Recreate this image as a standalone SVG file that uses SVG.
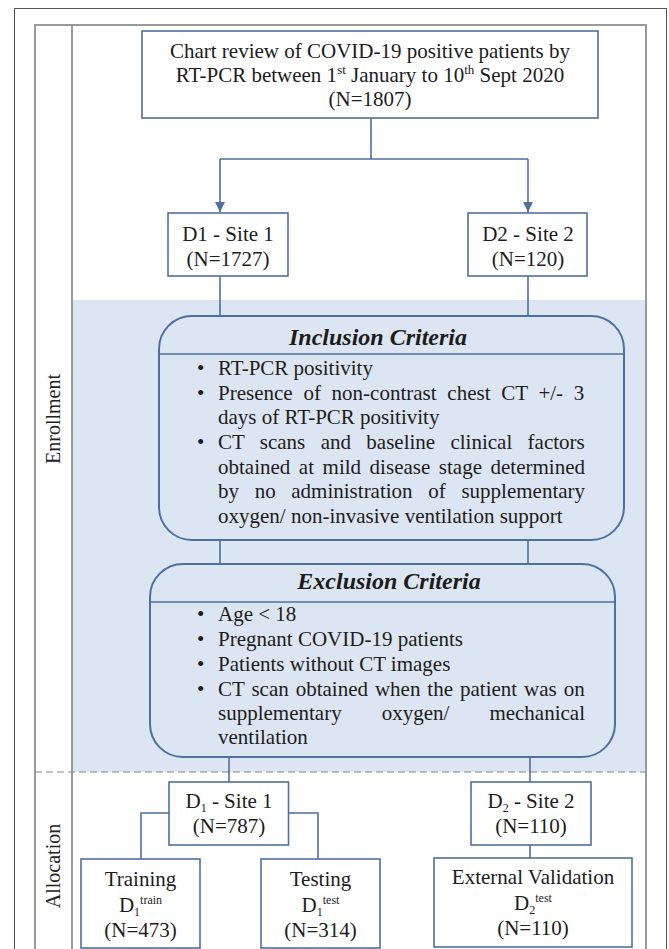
<svg xmlns="http://www.w3.org/2000/svg" width="669" height="949" viewBox="0 0 669 949">
<defs>
<style>
.t{font-family:"Liberation Serif","Times New Roman",serif;font-size:21px;fill:#1c1c1c}
.c{text-anchor:middle}
.h{font-weight:bold;font-style:italic;font-size:24px}
.box{fill:#fff;stroke:#4f6f9e;stroke-width:1.6}
.crit{fill:#dce6f2;stroke:#4f6f9e;stroke-width:2}
.div{stroke:#4f6f9e;stroke-width:1.5}
.con{fill:none;stroke:#4f6f9e;stroke-width:1.6}
.frame{fill:none;stroke:#9a9a9a;stroke-width:2}
.lab{font-family:"Liberation Serif","Times New Roman",serif;font-size:20px;fill:#222;text-anchor:middle}
</style>
<marker id="arr" viewBox="0 0 10 10" refX="10" refY="5" markerUnits="userSpaceOnUse" markerWidth="10" markerHeight="10" orient="auto">
<path d="M0,0 L10,5 L0,10 z" fill="#4f6f9e"/>
</marker>
</defs>
<rect width="669" height="949" fill="#fff"/>
<g id="frame">
<rect x="72" y="300" width="574" height="472" fill="#dce6f2"/>
<rect x="14.5" y="8.5" width="652" height="960" fill="none" stroke="#555" stroke-width="1"/>
<rect x="35" y="25" width="611" height="960" class="frame"/>
<line x1="72" y1="25" x2="72" y2="949" class="frame"/>
<line x1="35" y1="772" x2="646" y2="772" stroke="#888" stroke-width="1.2" stroke-dasharray="7,4"/>
<text class="lab" transform="translate(60,419) rotate(-90)">Enrollment</text>
<text class="lab" transform="translate(60,866) rotate(-90)">Allocation</text>
</g>
<g id="connectors">
<path class="con" d="M371,118 V159 M220,159 H528"/>
<path class="con" d="M220,159 V212" marker-end="url(#arr)"/>
<path class="con" d="M528,159 V212" marker-end="url(#arr)"/>
<path class="con" d="M220,276 V316 M528,276 V316"/>
<path class="con" d="M220,540 V564 M528,540 V564"/>
<path class="con" d="M229,757 V782 M530,757 V782"/>
<path class="con" d="M169,813 H141 V859 M288.5,813 H318 V859"/>
<path class="con" d="M530,845 V858"/>
</g>
<g id="top">
<rect class="box" x="142" y="31" width="456" height="87"/>
<text class="t c" x="370" y="58">Chart review of COVID-19 positive patients by</text>
<text class="t c" x="370" y="82">RT-PCR between 1<tspan font-size="13" dy="-8">st</tspan><tspan dy="8"> January to 10</tspan><tspan font-size="13" dy="-8">th</tspan><tspan dy="8"> Sept 2020</tspan></text>
<text class="t c" x="370" y="106">(N=1807)</text>
</g>
<g id="d1">
<rect class="box" x="168" y="213" width="120" height="63"/>
<text class="t c" x="228" y="241">D1 - Site 1</text>
<text class="t c" x="228" y="266">(N=1727)</text>
</g>
<g id="d2">
<rect class="box" x="468" y="213" width="119" height="63"/>
<text class="t c" x="528" y="241">D2 - Site 2</text>
<text class="t c" x="528" y="266">(N=120)</text>
</g>
<g id="inclusion">
<rect class="crit" x="159" y="316" width="465" height="224" rx="33" ry="33"/>
<line class="div" x1="159" y1="354" x2="624" y2="354"/>
<text class="t c h" x="378" y="345">Inclusion Criteria</text>
<text class="t" x="197" y="375">•</text>
<text class="t" x="218" y="375">RT-PCR positivity</text>
<text class="t" x="197" y="400">•</text>
<text class="t" x="218" y="400" word-spacing="5.5">Presence of non-contrast chest CT +/- 3</text>
<text class="t" x="218" y="424">days of RT-PCR positivity</text>
<text class="t" x="197" y="449">•</text>
<text class="t" x="218" y="449" word-spacing="10.1">CT scans and baseline clinical factors</text>
<text class="t" x="218" y="474" word-spacing="3.3">obtained at mild disease stage determined</text>
<text class="t" x="218" y="498" word-spacing="10.4">by no administration of supplementary</text>
<text class="t" x="218" y="523">oxygen/ non-invasive ventilation support</text>
</g>
<g id="exclusion">
<rect class="crit" x="150" y="564" width="465" height="193" rx="33" ry="33"/>
<line class="div" x1="150" y1="602" x2="615" y2="602"/>
<text class="t c h" x="389" y="589">Exclusion Criteria</text>
<text class="t" x="197" y="621">•</text>
<text class="t" x="218" y="621">Age &lt; 18</text>
<text class="t" x="197" y="646">•</text>
<text class="t" x="218" y="646">Pregnant COVID-19 patients</text>
<text class="t" x="197" y="671">•</text>
<text class="t" x="218" y="671">Patients without CT images</text>
<text class="t" x="197" y="696">•</text>
<text class="t" x="218" y="696" word-spacing="1.7">CT scan obtained when the patient was on</text>
<text class="t" x="218" y="720" word-spacing="34.8">supplementary oxygen/ mechanical</text>
<text class="t" x="218" y="744">ventilation</text>
</g>
<g id="d1site1">
<rect class="box" x="169" y="782" width="119.5" height="63"/>
<text class="t c" x="229" y="808">D<tspan font-size="12" dy="4">1</tspan><tspan dy="-4"> - Site 1</tspan></text>
<text class="t c" x="229" y="833">(N=787)</text>
</g>
<g id="d2site2">
<rect class="box" x="471" y="782" width="120" height="63"/>
<text class="t c" x="531" y="808">D<tspan font-size="12" dy="4">2</tspan><tspan dy="-4"> - Site 2</tspan></text>
<text class="t c" x="531" y="833">(N=110)</text>
</g>
<g id="training">
<rect class="box" x="81" y="859" width="119" height="89"/>
<text class="t c" x="140.5" y="886">Training</text>
<text class="t c" x="140.5" y="912">D<tspan font-size="12" dy="4">1</tspan><tspan font-size="12" dy="-12">train</tspan></text>
<text class="t c" x="140.5" y="937">(N=473)</text>
</g>
<g id="testing">
<rect class="box" x="261" y="859" width="119" height="89"/>
<text class="t c" x="320.5" y="886">Testing</text>
<text class="t c" x="320.5" y="912">D<tspan font-size="12" dy="4">1</tspan><tspan font-size="12" dy="-12">test</tspan></text>
<text class="t c" x="320.5" y="937">(N=314)</text>
</g>
<g id="external">
<rect class="box" x="434" y="858" width="198" height="89"/>
<text class="t c" x="533" y="884">External Validation</text>
<text class="t c" x="533" y="910">D<tspan font-size="12" dy="4">2</tspan><tspan font-size="12" dy="-12">test</tspan></text>
<text class="t c" x="533" y="935">(N=110)</text>
</g>
</svg>
